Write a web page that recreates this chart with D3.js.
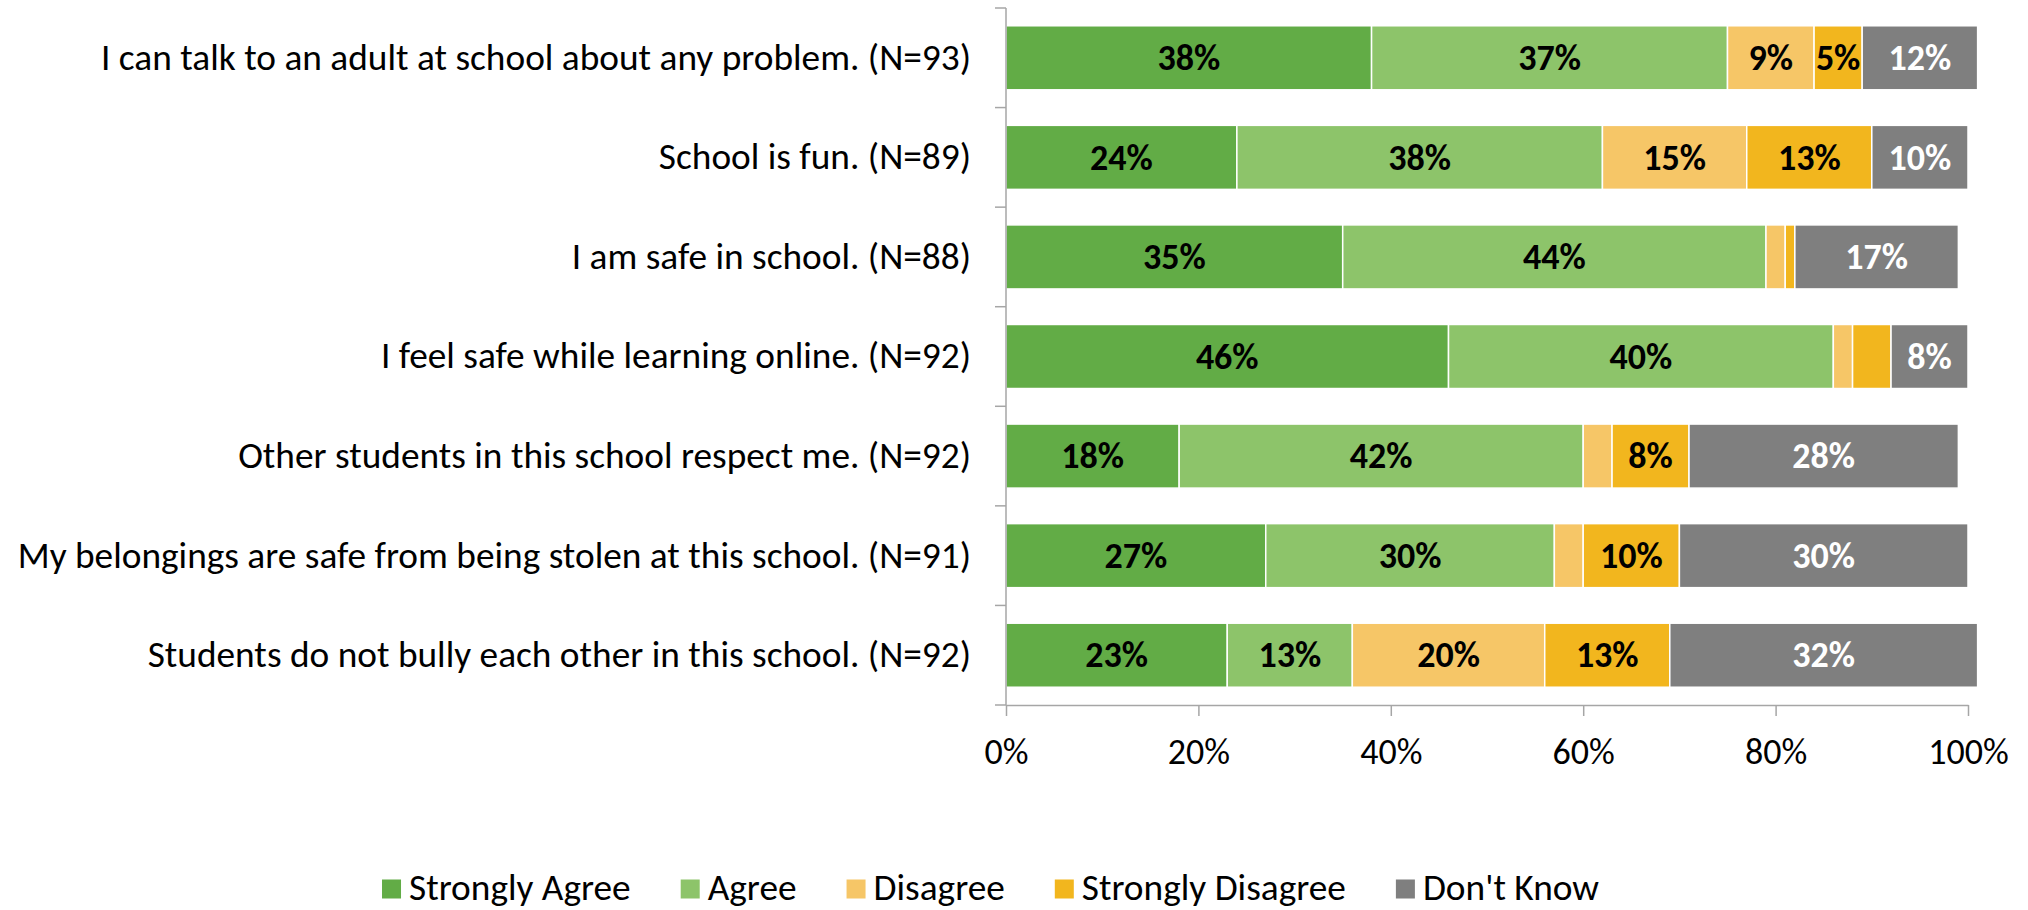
<!DOCTYPE html>
<html>
<head>
<meta charset="utf-8">
<script src="https://cdn.jsdelivr.net/npm/d3@7"></script>
<style>
  html, body { margin: 0; padding: 0; background: #fff; }
  svg { display: block; }
  text { font-family: Carlito, Calibri, Lato, "Open Sans", sans-serif; }
</style>
</head>
<body>
<svg id="chart" width="2028" height="910"></svg>
<script>
// Survey statements (top to bottom)
const statements = [
  "I can talk to an adult at school about any problem. (N=93)",
  "School is fun. (N=89)",
  "I am safe in school. (N=88)",
  "I feel safe while learning online. (N=92)",
  "Other students in this school respect me. (N=92)",
  "My belongings are safe from being stolen at this school. (N=91)",
  "Students do not bully each other in this school. (N=92)"
];

// Response categories, in stacking order
const responses = ["Strongly Agree", "Agree", "Disagree", "Strongly Disagree", "Don't Know"];

// Percent of students giving each response, one array per response
const stronglyAgree    = [38, 24, 35, 46, 18, 27, 23];
const agree            = [37, 38, 44, 40, 42, 30, 13];
const disagree         = [ 9, 15,  2,  2,  3,  3, 20];
const stronglyDisagree = [ 5, 13,  1,  4,  8, 10, 13];
const dontKnow         = [12, 10, 17,  8, 28, 30, 32];

const xTicks = [0, 0.2, 0.4, 0.6, 0.8, 1.0];

const colors = ["#62AC46", "#8DC46A", "#F6C667", "#F2B61E", "#7F7F7F"];
const labelColors = ["#000", "#000", "#000", "#000", "#fff"];

const seriesValues = [stronglyAgree, agree, disagree, stronglyDisagree, dontKnow];

// Build rows for stacking
const rows = statements.map((s, i) => {
  const r = { statement: s };
  responses.forEach((k, j) => { r[k] = seriesValues[j][i] / 100; });
  return r;
});

const stacked = d3.stack().keys(responses)(rows);

const svg = d3.select("#chart");

const plot = { left: 1006, right: 1968, top: 8, bottom: 705 };
const fontSize = 37.33;

const x = d3.scaleLinear().domain([0, 1]).range([plot.left, plot.right]);
const y = d3.scaleBand()
  .domain(statements)
  .range([plot.top, plot.bottom])
  .paddingInner(0.357)
  .paddingOuter(0.1785);

const axisColor = "#A6A6A6";

// Bars
const layer = svg.append("g").selectAll("g")
  .data(stacked)
  .join("g")
  .attr("fill", (d, i) => colors[i]);

layer.selectAll("rect")
  .data(d => d.map(v => ({ v, key: d.key })))
  .join("rect")
  .attr("x", d => x(d.v[0]))
  .attr("y", d => y(d.v.data.statement))
  .attr("width", d => x(d.v[1]) - x(d.v[0]))
  .attr("height", y.bandwidth())
  .attr("stroke", "#fff")
  .attr("stroke-width", 1.5);

// Data labels (segments of 5% or more)
const labels = svg.append("g");
stacked.forEach((series, j) => {
  series.forEach(v => {
    const val = v[1] - v[0];
    if (Math.round(val * 100) < 5) return;
    labels.append("text")
      .attr("x", (x(v[0]) + x(v[1])) / 2)
      .attr("y", y(v.data.statement) + y.bandwidth() / 2)
      .attr("dy", "0.34em")
      .attr("text-anchor", "middle")
      .attr("font-size", 36)
      .attr("font-weight", "bold")
      .attr("fill", labelColors[j])
      .text(Math.round(val * 100) + "%");
  });
});

// X axis
const xAxis = d3.axisBottom(x)
  .tickValues(xTicks)
  .tickFormat(d3.format(".0%"))
  .tickSizeInner(11)
  .tickSizeOuter(0)
  .tickPadding(22);

const gx = svg.append("g")
  .attr("transform", `translate(0,${plot.bottom})`)
  .call(xAxis);
gx.select(".domain").attr("stroke", axisColor).attr("stroke-width", 1.5);
gx.selectAll(".tick line").attr("stroke", axisColor).attr("stroke-width", 1.5);
gx.selectAll(".tick text")
  .attr("font-size", 36)
  .attr("font-family", "Carlito, Calibri, Lato, sans-serif")
  .attr("fill", "#000");

// Y axis line with ticks at category boundaries
svg.append("line")
  .attr("x1", plot.left).attr("x2", plot.left)
  .attr("y1", plot.top).attr("y2", plot.bottom)
  .attr("stroke", axisColor).attr("stroke-width", 1.5);

const boundaries = d3.range(statements.length + 1)
  .map(i => plot.top + i * (plot.bottom - plot.top) / statements.length);
svg.append("g").selectAll("line")
  .data(boundaries)
  .join("line")
  .attr("x1", plot.left - 11).attr("x2", plot.left)
  .attr("y1", d => d).attr("y2", d => d)
  .attr("stroke", axisColor).attr("stroke-width", 1.5);

// Category labels
svg.append("g").selectAll("text")
  .data(statements)
  .join("text")
  .attr("x", 971)
  .attr("y", d => y(d) + y.bandwidth() / 2)
  .attr("dy", "0.32em")
  .attr("text-anchor", "end")
  .attr("font-size", fontSize)
  .attr("fill", "#000")
  .text(d => d);

// Legend
const legend = svg.append("g");
let cursor = 0;
responses.forEach((k, i) => {
  const g = legend.append("g");
  g.append("rect")
    .attr("x", 0).attr("y", -9.5)
    .attr("width", 19).attr("height", 19)
    .attr("fill", colors[i]);
  const t = g.append("text")
    .attr("x", 27).attr("y", 0)
    .attr("dy", "0.3em")
    .attr("font-size", fontSize)
    .attr("fill", "#000")
    .text(k);
  const w = 27 + t.node().getComputedTextLength();
  g.attr("transform", `translate(${cursor},0)`);
  cursor += w + 50;
});
const legendWidth = cursor - 50;
legend.attr("transform", `translate(${990.5 - legendWidth / 2},889)`);
</script>
</body>
</html>
